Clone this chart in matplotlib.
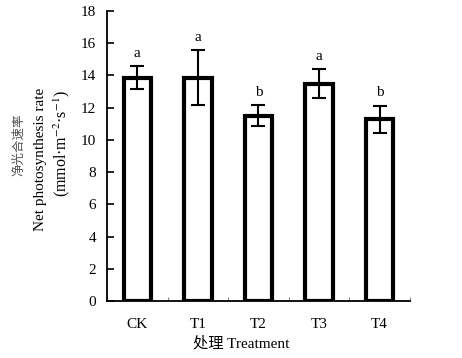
import matplotlib
matplotlib.use("Agg")
import matplotlib.pyplot as plt
import numpy as np

plt.rcParams['font.family'] = ['Liberation Serif', 'Noto Sans CJK SC']
plt.rcParams['mathtext.fontset'] = 'stix'

# données
treatments = ['CK', 'T1', 'T2', 'T3', 'T4']
pn_mean = [13.87, 13.87, 11.5, 13.48, 11.28]
pn_err = [0.71, 1.69, 0.65, 0.89, 0.84]
letters = ['a', 'a', 'b', 'a', 'b']
yticks = [0, 2, 4, 6, 8, 10, 12, 14, 16, 18]

fig = plt.figure(figsize=(4.62, 3.58), dpi=100)
ax = fig.add_axes([0.2316, 0.1592, 0.6558, 0.8101])

x = np.arange(len(treatments))
ax.bar(x, pn_mean, width=0.45, facecolor='white', edgecolor='black', linewidth=3.0, zorder=2)
ax.errorbar(x, pn_mean, yerr=pn_err, fmt='none', ecolor='black',
            elinewidth=1.5, capsize=5, capthick=1.5, zorder=3)

for xi, m, e, lab in zip(x, pn_mean, pn_err, letters):
    ax.text(xi, m + e + 0.4, lab, ha='center', va='bottom', fontsize=11)

ax.set_xlim(-0.5, len(treatments) - 0.5)
ax.set_ylim(0, 18)
ax.set_yticks(yticks)
ax.set_xticks(x)
ax.set_xticklabels(treatments, fontsize=11)
ax.set_xticks(np.arange(len(treatments) + 1) - 0.5, minor=True)

ax.tick_params(axis='y', direction='in', length=5, width=1.2, pad=8, labelsize=11)
ax.tick_params(axis='x', which='major', length=0, pad=12)
ax.tick_params(axis='x', which='minor', direction='in', length=3, width=0.8, color='#888888')

for side in ['top', 'right']:
    ax.spines[side].set_visible(False)
for side in ['left', 'bottom']:
    ax.spines[side].set_linewidth(1.3)

# étiquettes d'axe
fig.text(241 / 462, 1 - 343 / 358, '处理 Treatment', ha='center', va='center', fontsize=11)
fig.text(19 / 462, 1 - 145 / 358, '净光合速率', rotation=90, ha='center', va='center',
         fontsize=9, color='#505050')
fig.text(41 / 462, 1 - 159 / 358, 'Net photosynthesis rate', rotation=90,
         ha='center', va='center', fontsize=11)
fig.text(62 / 462, 1 - 143 / 358, '(mmol·m$^{-2}$·s$^{-1}$)', rotation=90,
         ha='center', va='center', fontsize=11.5)

fig.savefig('out.png', dpi=100)
